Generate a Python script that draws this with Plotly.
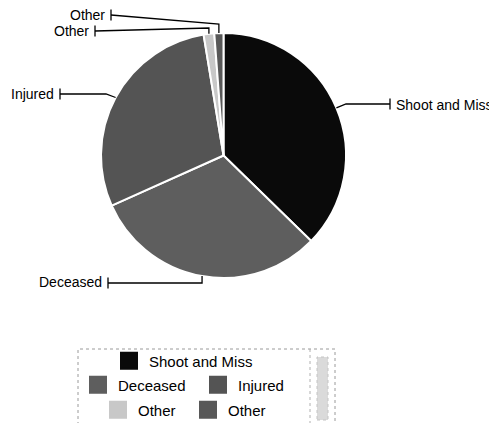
import math
import plotly.graph_objects as go

# ---- data ----
categories = ["Shoot and Miss", "Deceased", "Injured", "Other", "Other"]
values = [37.3, 31.0, 29.1, 1.4, 1.2]
colors = ["#0a0a0a", "#5e5e5e", "#545454", "#c8c8c8", "#585858"]

# ---- layout constants (window pixels) ----
W, H = 497, 423
OX, OY = 8, 8          # page body margin offset
CX, CY, R = 223.5, 155.5, 122.5
FONT = "Liberation Sans, Arial, sans-serif"


def px(x):
    return (x - OX) / W


def py(y):
    return 1 - (y - OY) / H


fig = go.Figure()
fig.add_trace(go.Pie(
    values=values,
    text=categories,
    sort=False,
    direction="clockwise",
    rotation=0,
    marker=dict(colors=colors, line=dict(color="white", width=2)),
    textinfo="none",
    hovertemplate="%{text}: %{percent}<extra></extra>",
    showlegend=False,
    domain=dict(x=[px(CX - R), px(CX + R)], y=[py(CY + R), py(CY - R)]),
))

# edge points of each slice's mid angle (clockwise from 12 o'clock)
total = sum(values)
edges = []
cum = 0.0
for v in values:
    mid = (cum + v / 2) / total * 2 * math.pi
    edges.append((CX + R * math.sin(mid), CY - R * math.cos(mid)))
    cum += v

# leader layout: elbow (x None -> same x as edge), tick end, text side
leaders = [
    dict(elbow=(346, 104), end=(390, 104), text=(394, 105), side="left"),
    dict(elbow=(None, 283), end=(108, 283), text=(104, 282), side="right"),
    dict(elbow=(106, 94), end=(60, 94), text=(56, 94), side="right"),
    dict(elbow=(None, 28), end=(95, 31), text=(91, 31), side="right"),
    dict(elbow=(None, 24), end=(111, 15), text=(107, 15), side="right"),
]

shapes = []
annotations = []
for i, (edge, ld) in enumerate(zip(edges, leaders)):
    ex, ey = edge
    bx = ld["elbow"][0] if ld["elbow"][0] is not None else ex
    by = ld["elbow"][1]
    tx, ty = ld["end"]
    path = f"M {px(ex)},{py(ey)} L {px(bx)},{py(by)} L {px(tx)},{py(ty)}"
    shapes.append(dict(type="path", xref="paper", yref="paper", path=path,
                       line=dict(color="black", width=1.3)))
    shapes.append(dict(type="line", xref="paper", yref="paper",
                       x0=px(tx), x1=px(tx), y0=py(ty - 5.5), y1=py(ty + 5.5),
                       line=dict(color="black", width=1.3)))
    annotations.append(dict(xref="paper", yref="paper", x=px(ld["text"][0]), y=py(ld["text"][1]),
                            text=categories[i], showarrow=False,
                            xanchor="left" if ld["side"] == "left" else "right", yanchor="middle",
                            font=dict(family=FONT, size=14, color="black")))

# legend frame (dotted) and scrollbar look
shapes.append(dict(type="rect", xref="paper", yref="paper", x0=px(78), x1=px(335), y0=py(440), y1=py(349),
                   line=dict(color="#9a9a9a", width=1, dash="dot")))
shapes.append(dict(type="line", xref="paper", yref="paper", x0=px(310), x1=px(310), y0=py(349), y1=py(440),
                   line=dict(color="#b0b0b0", width=1, dash="dot")))
shapes.append(dict(type="rect", xref="paper", yref="paper", x0=px(317), x1=px(328), y0=py(420), y1=py(357),
                   fillcolor="#dadada", line=dict(color="#c4c4c4", width=1, dash="dot")))

# legend rows as separate legends (centered rows)
legend_rows = [[0], [1, 2], [3, 4]]
for r, row in enumerate(legend_rows):
    lname = "legend" if r == 0 else f"legend{r + 1}"
    for i in row:
        fig.add_trace(go.Scatter(
            x=[None], y=[None], mode="markers", name=categories[i], legend=lname,
            marker=dict(symbol="square", size=16, color=colors[i], line=dict(color=colors[i], width=2)),
            showlegend=True, hoverinfo="skip",
        ))

leg_common = dict(orientation="h", xanchor="left", yanchor="middle", bgcolor="rgba(0,0,0,0)",
                  borderwidth=0, font=dict(family=FONT, size=15, color="black"))

fig.update_layout(
    width=W, height=H,
    margin=dict(l=0, r=0, t=0, b=0),
    paper_bgcolor="white", plot_bgcolor="white",
    xaxis=dict(visible=False), yaxis=dict(visible=False),
    shapes=shapes, annotations=annotations,
    legend=dict(leg_common, x=px(109), y=py(361)),
    legend2=dict(leg_common, x=px(78), y=py(385), entrywidth=75),
    legend3=dict(leg_common, x=px(98), y=py(410), entrywidth=45),
)

fig.write_html("out.html")
